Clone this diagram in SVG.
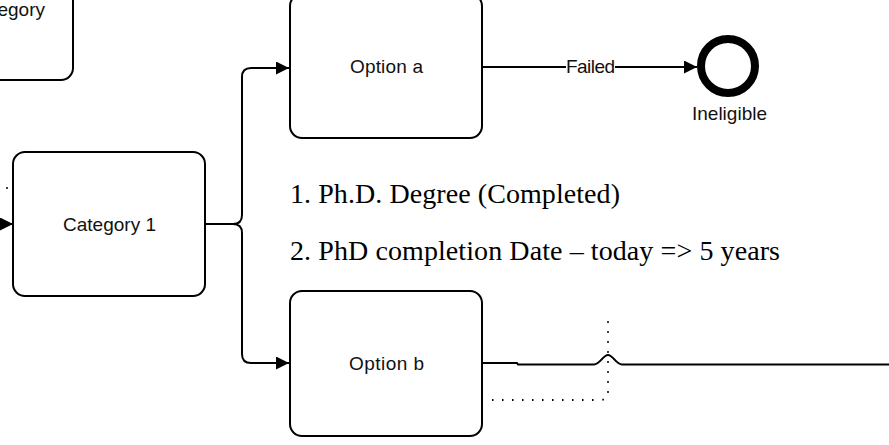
<svg xmlns="http://www.w3.org/2000/svg" width="889" height="445" viewBox="0 0 889 445">
<style>
.box{fill:#fff;stroke:#000;stroke-width:2}
.lbl{font-family:"Liberation Sans","Noto Sans",sans-serif;font-size:19px;fill:#111;text-anchor:middle}
.note{font-family:"Liberation Serif","Times New Roman",serif;font-size:28px;fill:#000}
.conn{fill:none;stroke:#000;stroke-width:2}
.dot{fill:none;stroke:#000;stroke-width:2;stroke-dasharray:1.5 8.5}
</style>
<defs>
<marker id="arr" markerUnits="userSpaceOnUse" markerWidth="13" markerHeight="13" refX="13" refY="6.5" orient="auto">
<path d="M0,0 L13,6.5 L0,13 Z" fill="#000"/>
</marker>
</defs>
<rect width="889" height="445" fill="#fff"/>
<g id="connectors">
<path class="conn" d="M-5,224 H13" marker-end="url(#arr)"/>
<path class="conn" d="M205,224 H233 Q242,224 242,215 V77 Q242,68 251,68 H289" marker-end="url(#arr)"/>
<path class="conn" d="M233,224 Q242,224 242,233 V354 Q242,363 251,363 H289" marker-end="url(#arr)"/>
<path class="conn" d="M482,67 H566 M615,67 H697" marker-end="url(#arr)"/>
<text class="lbl" x="590.5" y="73" textLength="49">Failed</text>
<path class="conn" d="M482,363 H517 L518,364.5 H594 C600,364.5 603,355 608,355 C613,355 616,364.5 622,364.5 H889"/>
<path class="dot" d="M492,400 H600 Q608,400 608,392 V313"/>
<circle cx="7" cy="188" r="1" fill="#000"/>
<circle cx="338" cy="302" r="1" fill="#000"/>
</g>
<g id="category-top">
<rect class="box" x="-120" y="-64" width="193" height="144" rx="12"/>
<text class="lbl" x="45" y="16" style="text-anchor:end">Category</text>
</g>
<g id="category1">
<rect class="box" x="13" y="152" width="192" height="144" rx="12"/>
<text class="lbl" x="109.5" y="231" textLength="93">Category 1</text>
</g>
<g id="option-a">
<rect class="box" x="290" y="-6" width="192" height="144" rx="12"/>
<text class="lbl" x="386.5" y="73" textLength="73">Option a</text>
</g>
<g id="option-b">
<rect class="box" x="290" y="291" width="192" height="145" rx="12"/>
<text class="lbl" x="386.5" y="370" textLength="75">Option b</text>
</g>
<g id="ineligible">
<circle cx="728" cy="66" r="27" fill="#fff" stroke="#000" stroke-width="8"/>
<text class="lbl" x="729.5" y="120" textLength="75">Ineligible</text>
</g>
<g id="notes">
<text class="note" x="290" y="203" textLength="330">1. Ph.D. Degree (Completed)</text>
<text class="note" x="290" y="260" textLength="490">2. PhD completion Date – today =&gt; 5 years</text>
</g>
</svg>
